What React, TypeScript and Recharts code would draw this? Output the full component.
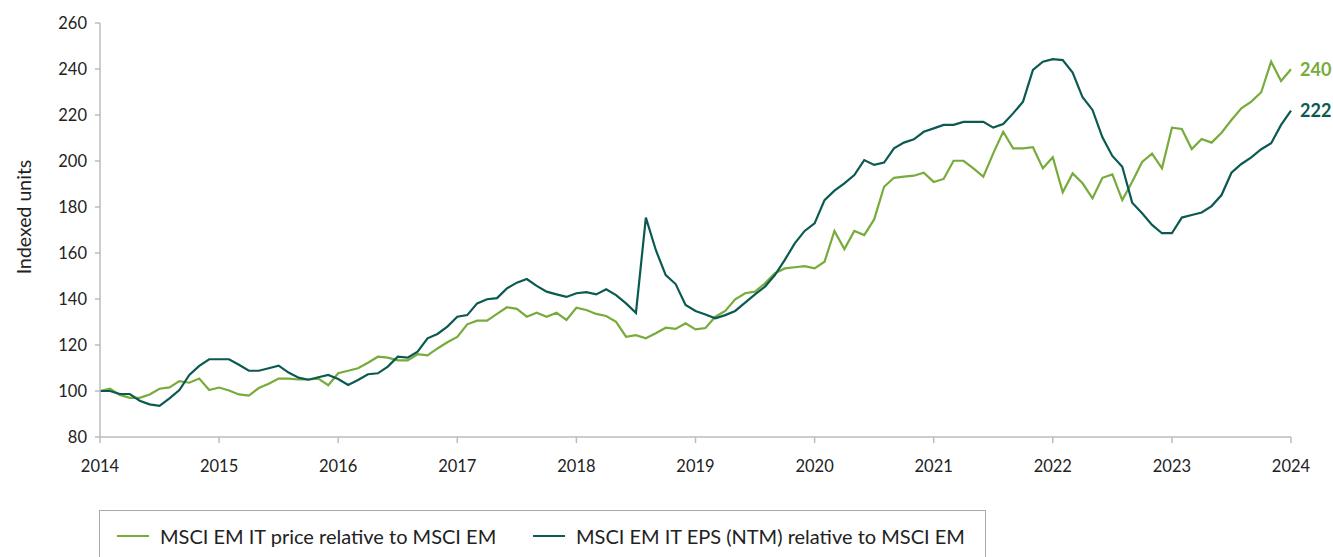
import React from 'react';
import { LineChart, Line, XAxis, YAxis } from 'recharts';

const years = ['2014', '2015', '2016', '2017', '2018', '2019', '2020', '2021', '2022', '2023', '2024'];
const monthNames = ['01', '02', '03', '04', '05', '06', '07', '08', '09', '10', '11', '12'];
const months: string[] = [];
years.forEach((y) => {
  monthNames.forEach((m) => {
    if (y !== '2024' || m === '01') months.push(`${y}-${m}`);
  });
});
const yearTicks = years.map((y) => `${y}-01`);
const valueTicks = [80, 100, 120, 140, 160, 180, 200, 220, 240, 260];

const priceRel = [
  100, 101, 98.3, 97, 97, 98.5, 101, 101.6, 104.3, 103.6, 105.4, 100.4,
  101.5, 100.2, 98.5, 98, 101.3, 103.2, 105.4, 105.4, 105, 105, 105.4, 102.5,
  107.7, 108.8, 109.9, 112.3, 114.9, 114.5, 113.3, 113.3, 116, 115.5, 118.5, 121.2,
  123.5, 129, 130.6, 130.6, 133.5, 136.4, 135.7, 132.3, 134, 132.3, 134, 130.9,
  136.2, 135.2, 133.5, 132.6, 130.1, 123.6, 124.3, 122.9, 125.1, 127.5, 127, 129.4,
  126.8, 127.4, 132.3, 134.8, 139.9, 142.5, 143.2, 146.8, 151.2, 153.3, 153.8, 154.3,
  153.3, 156.2, 169.6, 161.7, 169.6, 167.8, 174.6, 188.8, 192.7, 193.2, 193.6, 194.9,
  190.9, 192.2, 200.1, 200.1, 196.8, 193.2, 203.3, 212.7, 205.5, 205.5, 206, 196.8,
  201.6, 186.4, 194.6, 190.3, 183.8, 192.7, 194.2, 183, 191, 199.6, 203.2, 196.8,
  214.5, 213.9, 205.2, 209.6, 208, 212.3, 217.8, 222.9, 225.8, 229.9, 243.2, 234.8,
  239.9,
];

const epsRel = [
  100, 100, 98.7, 98.7, 95.8, 94.2, 93.5, 96.8, 100.4, 107, 110.9, 113.8,
  113.8, 113.8, 111.4, 108.8, 108.8, 109.9, 111, 108, 105.8, 104.9, 106, 107,
  105.2, 102.6, 104.8, 107.3, 107.7, 110.6, 114.9, 114.5, 117.1, 122.9, 124.8, 128,
  132.3, 133, 138.1, 139.9, 140.4, 144.6, 147.1, 148.7, 145.7, 143.2, 142, 140.9,
  142.5, 143, 142, 144.2, 141.7, 138.1, 134, 175.4, 161.3, 150.4, 146.5, 137.4,
  134.8, 133.3, 131.6, 133, 134.8, 138.4, 142, 145.4, 150.4, 157, 164.2, 169.6,
  172.9, 183, 187.1, 190.3, 193.9, 200.4, 198.3, 199.3, 205.5, 208, 209.4, 212.7,
  214.2, 215.7, 215.7, 217, 217, 217, 214.5, 216.1, 220.7, 225.8, 239.6, 243.2,
  244.3, 243.9, 238.4, 227.7, 222.2, 210.3, 202.2, 197.5, 181.9, 177.3, 172.2, 168.6,
  168.6, 175.4, 176.5, 177.6, 180.4, 185.2, 194.9, 198.7, 201.6, 205.1, 207.7, 215.7,
  221.9,
];

const seriesNames = ['MSCI EM IT price relative to MSCI EM', 'MSCI EM IT EPS (NTM) relative to MSCI EM'];
const LIGHT = '#77ab3b';
const DARK = '#0b5a52';
const FONT = 'Lato, "Noto Sans", sans-serif';

const data = months.map((m, i) => ({ month: m, price: priceRel[i], eps: epsRel[i] }));
const lastIdx = data.length - 1;

const endLabel = (color: string) => (props: any) => {
  if (props.index !== lastIdx) return <g />;
  return (
    <text
      x={props.x + 9}
      y={props.y}
      dy="0.35em"
      fill={color}
      fontSize={18}
      fontWeight={700}
      fontFamily={FONT}
    >
      {Math.round(props.value)}
    </text>
  );
};

export default function App() {
  const axisColor = '#bcbcbc';
  const tickStyle = { fill: '#222', fontSize: 16.5, fontFamily: FONT };
  return (
    <div style={{ position: 'absolute', left: 0, top: 0, width: 1333, height: 557, overflow: 'hidden', background: '#fff' }}>
      <LineChart width={1333} height={557} data={data} margin={{ top: 23, right: 42, left: 0, bottom: 80 }}>
        <XAxis
          dataKey="month"
          ticks={yearTicks}
          interval={0}
          tickFormatter={(v: string) => v.slice(0, 4)}
          height={40}
          tickSize={6}
          tickMargin={17}
          stroke={axisColor}
          strokeWidth={1.5}
          tick={tickStyle}
        />
        <YAxis
          domain={[80, 260]}
          ticks={valueTicks}
          width={100}
          tickSize={5}
          tickMargin={8}
          stroke={axisColor}
          strokeWidth={1.5}
          tick={tickStyle}
          allowDataOverflow
          label={{
            content: () => (
              <text
                transform="translate(23,217) rotate(-90)"
                textAnchor="middle"
                dominantBaseline="central"
                fill="#222"
                fontSize={19.5}
                fontFamily={FONT}
              >
                Indexed units
              </text>
            ),
          }}
        />
        <Line
          type="linear"
          dataKey="price"
          name={seriesNames[0]}
          stroke={LIGHT}
          strokeWidth={2.2}
          dot={false}
          isAnimationActive={false}
          label={endLabel(LIGHT)}
        />
        <Line
          type="linear"
          dataKey="eps"
          name={seriesNames[1]}
          stroke={DARK}
          strokeWidth={2.2}
          dot={false}
          isAnimationActive={false}
          label={endLabel(DARK)}
        />
      </LineChart>
      <div
        style={{
          position: 'absolute',
          left: 99,
          top: 510,
          width: 887,
          height: 60,
          border: '1px solid #aaa',
          boxSizing: 'border-box',
          fontFamily: FONT,
          fontSize: 20,
          color: '#222',
        }}
      >
        {[LIGHT, DARK].map((c, i) => (
          <div
            key={i}
            style={{ position: 'absolute', left: i === 0 ? 17 : 433, top: 13, display: 'flex', alignItems: 'center', whiteSpace: 'nowrap' }}
          >
            <span style={{ display: 'inline-block', width: 32, height: 2.5, background: c, marginRight: 11 }} />
            <span>{seriesNames[i]}</span>
          </div>
        ))}
      </div>
    </div>
  );
}
